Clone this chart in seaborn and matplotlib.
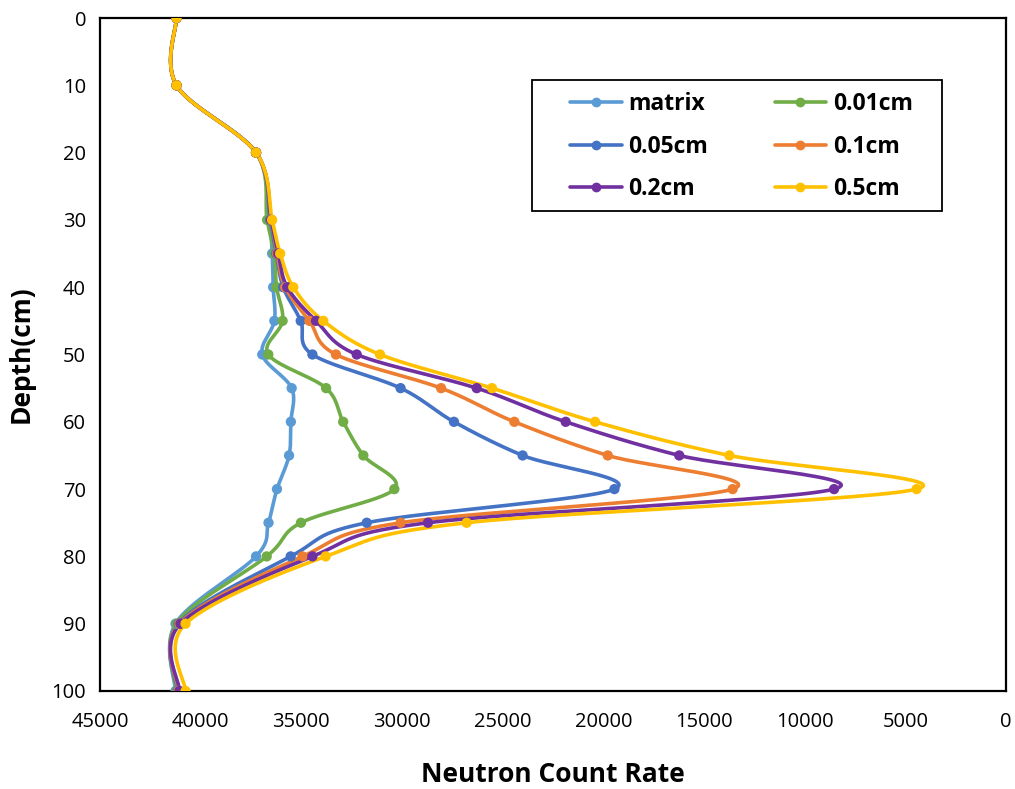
import numpy as np
import pandas as pd
import matplotlib
matplotlib.use("Agg")
import matplotlib.pyplot as plt
from matplotlib.lines import Line2D
from matplotlib.patches import Rectangle
import seaborn as sns

depth = [0, 10, 20, 30, 35, 40, 45, 50, 55, 60, 65, 70, 75, 80, 90, 100]
series_names = ["matrix", "0.01cm", "0.05cm", "0.1cm", "0.2cm", "0.5cm"]
matrix = [41200, 41200, 37250, 36600, 36450, 36400, 36340, 36940, 35480, 35520, 35610, 36210, 36630, 37250, 41250, 41250]
cm001 = [41200, 41200, 37250, 36700, 36350, 36230, 35930, 36640, 33770, 32920, 31920, 30380, 35020, 36720, 41200, 41200]
cm005 = [41200, 41200, 37250, 36550, 36250, 35900, 35030, 34450, 30070, 27420, 24010, 19450, 31750, 35530, 41100, 41150]
cm01 = [41200, 41200, 37250, 36500, 36200, 35800, 34600, 33280, 28060, 24420, 19780, 13580, 30070, 34940, 41050, 41100]
cm02 = [41200, 41200, 37250, 36500, 36150, 35700, 34270, 32250, 26290, 21870, 16230, 8540, 28710, 34450, 41000, 41050]
cm05 = [41200, 41200, 37250, 36450, 36050, 35400, 33910, 31090, 25530, 20410, 13740, 4440, 26790, 33790, 40750, 40750]
values = [matrix, cm001, cm005, cm01, cm02, cm05]
colors = ["#5B9BD5", "#70AD47", "#4472C4", "#ED7D31", "#7030A0", "#FFC000"]

x_ticks = [45000, 40000, 35000, 30000, 25000, 20000, 15000, 10000, 5000, 0]
y_ticks = [0, 10, 20, 30, 40, 50, 60, 70, 80, 90, 100]

sns.set_theme(style="white")
plt.rcParams["font.family"] = ["Open Sans", "DejaVu Sans"]

fig = plt.figure(figsize=(10.15, 7.89), dpi=100)
ax = fig.add_axes([100 / 1015, 1 - 691 / 789, 906 / 1015, 673 / 789])

W, H = 906.0, 673.0


def smooth(xv, yv, n=30):
    # Catmull-Rom style Bezier smoothing in screen space (Excel "smoothed line")
    px = (45000 - np.asarray(xv, float)) / 45000 * W
    py = np.asarray(yv, float) / 100 * H
    P = np.column_stack([px, py])
    out = []
    m = len(P)
    for i in range(m - 1):
        p0 = P[i - 1] if i > 0 else P[i]
        p1 = P[i]
        p2 = P[i + 1]
        p3 = P[i + 2] if i + 2 < m else P[i + 1]
        b1 = p1 + (p2 - p0) / 6
        b2 = p2 - (p3 - p1) / 6
        t = np.linspace(0, 1, n, endpoint=(i == m - 2))[:, None]
        seg = (1 - t) ** 3 * p1 + 3 * (1 - t) ** 2 * t * b1 + 3 * (1 - t) * t ** 2 * b2 + t ** 3 * p2
        out.append(seg)
    S = np.vstack(out)
    return 45000 - S[:, 0] / W * 45000, S[:, 1] / H * 100


for name, vals, col in zip(series_names, values, colors):
    sx, sy = smooth(vals, depth)
    curve = pd.DataFrame({"rate": sx, "depth": sy})
    sns.lineplot(data=curve, x="rate", y="depth", sort=False, estimator=None,
                 color=col, linewidth=2.6, ax=ax, legend=False)
    pts = pd.DataFrame({"rate": vals, "depth": depth})
    sns.scatterplot(data=pts, x="rate", y="depth", color=col, s=55,
                    edgecolor="none", ax=ax, legend=False, zorder=3)

ax.set_xlim(45000, 0)
ax.set_ylim(100, 0)
ax.set_xticks(x_ticks)
ax.set_xticklabels([str(v) for v in x_ticks])
ax.set_yticks(y_ticks)
ax.set_yticklabels([str(v) for v in y_ticks])
ax.tick_params(axis="both", labelsize=14.5, colors="black", labelcolor="black", length=0, pad=10)
ax.tick_params(axis="x", pad=15)
for sp in ax.spines.values():
    sp.set_color("black")
    sp.set_linewidth(1.6)
    sp.set_visible(True)

ax.set_xlabel("Neutron Count Rate", fontsize=19, fontweight="bold", labelpad=21, color="black")
ax.set_ylabel("Depth(cm)", fontsize=19, fontweight="bold", labelpad=12, color="black")

# legend frame
ax.add_patch(Rectangle((432 / W, 480 / H), 410 / W, 131 / H, transform=ax.transAxes,
                       facecolor="white", edgecolor="black", linewidth=1.3, zorder=5))

handles = [Line2D([0], [0], color=c, linewidth=2.6, marker="o", markersize=6) for c in colors]
order = [0, 2, 4, 1, 3, 5]
leg = ax.legend([handles[i] for i in order], [series_names[i] for i in order], ncol=2,
                loc="upper left",
                bbox_to_anchor=(470 / W, (H - 81) / H, 343 / W, 0.01), mode="expand",
                frameon=False, borderaxespad=0, borderpad=0,
                prop={"family": ["Open Sans", "DejaVu Sans"], "weight": "bold", "size": 16.5},
                handlelength=2.25, handletextpad=0.3, labelspacing=0.8)
leg.set_zorder(6)
for t in leg.get_texts():
    t.set_color("black")

fig.savefig("out.png", dpi=100)
